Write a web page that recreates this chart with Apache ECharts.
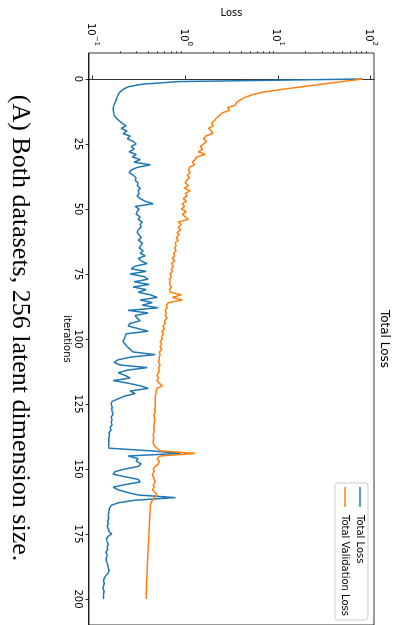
<!DOCTYPE html>
<html><head><meta charset="utf-8">
<script src="https://cdn.jsdelivr.net/npm/echarts@6/dist/echarts.min.js"></script>
<style>
html,body{margin:0;padding:0;width:406px;height:625px;overflow:hidden;background:#fff}
#wrap{position:absolute;left:0;top:0;width:625px;height:406px;transform-origin:0 0;transform:translate(406px,0) rotate(90deg);}
#chart{width:625px;height:406px}
</style></head><body><div id="wrap"><div id="chart"></div></div>
<script>
const titleText = 'Total Loss';
const captionText = '(A) Both datasets, 256 latent dimension size.';
const seriesNames = ['Total Loss', 'Total Validation Loss'];
const xTickValues = [0, 25, 50, 75, 100, 125, 150, 175, 200];
const yMajorTicks = [0.1, 1, 10, 100];
const yMinorTicks = [0.2,0.3,0.4,0.5,0.6,0.7,0.8,0.9,2,3,4,5,6,7,8,9,20,30,40,50,60,70,80,90];

const totalLoss = [
82, 0.834, 0.340, 0.239, 0.211, 0.196, 0.187, 0.182, 0.178, 0.173,
0.169, 0.165, 0.165, 0.167, 0.169, 0.178, 0.191, 0.206, 0.228, 0.201,
0.234, 0.211, 0.252, 0.234, 0.271, 0.292, 0.258, 0.278, 0.245, 0.292,
0.265, 0.323, 0.278, 0.415, 0.300, 0.258, 0.245, 0.271, 0.292, 0.285,
0.307, 0.300, 0.323, 0.307, 0.315, 0.300, 0.323, 0.366, 0.447, 0.285,
0.315, 0.300, 0.292, 0.323, 0.307, 0.340, 0.323, 0.331, 0.307, 0.300,
0.315, 0.331, 0.307, 0.340, 0.331, 0.315, 0.348, 0.323, 0.366, 0.307,
0.331, 0.384, 0.285, 0.258, 0.375, 0.252, 0.357, 0.394, 0.278, 0.404,
0.271, 0.375, 0.307, 0.415, 0.494, 0.323, 0.436, 0.340, 0.506, 0.239,
0.394, 0.285, 0.300, 0.323, 0.252, 0.239, 0.307, 0.394, 0.228, 0.222,
0.217, 0.211, 0.222, 0.234, 0.252, 0.271, 0.470, 0.252, 0.187, 0.169,
0.196, 0.384, 0.234, 0.187, 0.222, 0.252, 0.165, 0.239, 0.323, 0.394,
0.252, 0.285, 0.217, 0.187, 0.161, 0.157, 0.161, 0.159, 0.161, 0.165,
0.157, 0.161, 0.157, 0.161, 0.153, 0.157, 0.149, 0.151, 0.148, 0.149,
0.148, 0.148, 0.149, 0.415, 0.876, 0.239, 0.307, 0.292, 0.331, 0.307,
0.222, 0.173, 0.165, 0.222, 0.307, 0.323, 0.222, 0.165, 0.187, 0.234,
0.307, 0.774, 0.285, 0.187, 0.157, 0.151, 0.149, 0.148, 0.146, 0.148,
0.144, 0.146, 0.142, 0.146, 0.149, 0.159, 0.144, 0.140, 0.142, 0.146,
0.142, 0.144, 0.138, 0.142, 0.140, 0.138, 0.142, 0.144, 0.146, 0.149,
0.146, 0.138, 0.132, 0.130, 0.132, 0.130, 0.128, 0.132, 0.130, 0.130, 0.130
];

const validationLoss = [
82, 48.6, 29.5, 17.9, 10.9, 6.95, 5.28, 4.43, 3.91, 3.54,
3.45, 2.83, 2.97, 2.50, 2.32, 2.15, 2.05, 1.90, 2.00, 1.76,
1.90, 1.95, 1.63, 1.56, 1.68, 1.56, 1.44, 1.52, 1.37, 1.63,
1.31, 1.27, 1.18, 1.24, 1.10, 1.07, 1.12, 1.04, 1.10, 1.02,
0.99, 1.07, 0.97, 1.12, 0.99, 1.04, 0.94, 1.02, 0.92, 0.97,
0.90, 1.02, 0.92, 0.99, 1.07, 0.83, 0.90, 0.83, 0.88, 0.81,
0.85, 0.79, 0.83, 0.77, 0.79, 0.76, 0.79, 0.74, 0.76, 0.72,
0.76, 0.70, 0.74, 0.70, 0.72, 0.68, 0.70, 0.67, 0.68, 0.67,
0.70, 0.67, 0.68, 0.90, 0.72, 0.92, 0.65, 0.62, 0.63, 0.60,
0.62, 0.60, 0.63, 0.59, 0.60, 0.57, 0.59, 0.56, 0.57, 0.55,
0.56, 0.53, 0.55, 0.53, 0.55, 0.52, 0.53, 0.52, 0.52, 0.51,
0.53, 0.51, 0.52, 0.51, 0.49, 0.51, 0.49, 0.52, 0.56, 0.49,
0.48, 0.48, 0.47, 0.47, 0.47, 0.47, 0.47, 0.464, 0.47, 0.458,
0.458, 0.464, 0.458, 0.458, 0.453, 0.458, 0.453, 0.447, 0.453, 0.447,
0.447, 0.458, 0.49, 0.53, 1.27, 0.53, 0.49, 0.52, 0.51, 0.47,
0.447, 0.458, 0.436, 0.447, 0.458, 0.47, 0.447, 0.458, 0.436, 0.47,
0.49, 0.458, 0.436, 0.425, 0.415, 0.414, 0.413, 0.412, 0.410, 0.409,
0.408, 0.407, 0.405, 0.404, 0.403, 0.401, 0.400, 0.399, 0.397, 0.396,
0.395, 0.393, 0.392, 0.391, 0.390, 0.388, 0.387, 0.386, 0.385, 0.384,
0.383, 0.382, 0.381, 0.380, 0.379, 0.378, 0.377, 0.376, 0.376, 0.375, 0.374
];

const iterations = totalLoss.map((_, i) => i);

const FONT = 'DejaVu Sans';
const chart = echarts.init(document.getElementById('chart'), null, {renderer: 'canvas'});
const yMin = 0.0905, yMax = 108;

function supLabel(v) {
  const e = Math.round(Math.log10(v));
  const s = e < 0 ? '\u2212' + (-e) : String(e);
  return '{b|10}{s|' + s + '}';
}

chart.setOption({
  animation: false,
  backgroundColor: '#fff',
  title: {
    text: titleText, left: 339, top: 16, textAlign: 'center', padding: 0,
    textStyle: {fontFamily: FONT, fontSize: 12, fontWeight: 'normal', color: '#000'}
  },
  legend: {
    orient: 'vertical', right: 5, top: 38,
    padding: [3, 4, 5, 4], itemGap: 5, itemWidth: 20, itemHeight: 1.5,
    icon: 'rect',
    backgroundColor: 'rgba(255,255,255,0.8)', borderColor: '#cccccc', borderWidth: 1, borderRadius: 3,
    textStyle: {fontFamily: FONT, fontSize: 10, color: '#000', padding: [0, 0, 0, 3]},
    data: seriesNames
  },
  grid: {left: 53, top: 32, width: 572, height: 285, show: true, borderColor: '#000', borderWidth: 0.8, containLabel: false, outerBoundsMode: 'none'},
  xAxis: {
    type: 'value', min: -10, max: 210,
    name: 'iterations', nameLocation: 'middle', nameGap: 17, nameMoveOverlap: false,
    nameTextStyle: {fontFamily: FONT, fontSize: 10, color: '#000'},
    axisLine: {show: true, lineStyle: {color: '#000', width: 0.8}},
    axisTick: {show: true, length: 3.5, lineStyle: {color: '#000', width: 0.8}, customValues: xTickValues},
    axisLabel: {fontFamily: FONT, fontSize: 10, color: '#000', margin: 6, customValues: xTickValues},
    splitLine: {show: false}
  },
  yAxis: [{
    type: 'log', logBase: 10, min: yMin, max: yMax,
    name: 'Loss', nameLocation: 'middle', nameGap: 35, nameMoveOverlap: false,
    nameTextStyle: {fontFamily: FONT, fontSize: 10, color: '#000'},
    axisLine: {show: true, lineStyle: {color: '#000', width: 0.8}},
    axisTick: {show: true, length: 3.5, lineStyle: {color: '#000', width: 0.8}, customValues: yMajorTicks},
    axisLabel: {
      margin: 7, customValues: yMajorTicks, formatter: supLabel,
      rich: {
        b: {fontFamily: FONT, fontSize: 10, color: '#000', verticalAlign: 'bottom', lineHeight: 15},
        s: {fontFamily: FONT, fontSize: 7, color: '#000', verticalAlign: 'top', lineHeight: 15}
      }
    },
    splitLine: {show: false}
  }, {
    type: 'log', logBase: 10, min: yMin, max: yMax, position: 'left',
    axisLine: {show: false},
    axisTick: {show: true, length: 2, lineStyle: {color: '#000', width: 0.6}, customValues: yMinorTicks},
    axisLabel: {show: false},
    splitLine: {show: false}
  }],
  graphic: [{
    type: 'text', x: 328, y: 386,
    style: {text: captionText, fontFamily: 'Liberation Serif', fontSize: 26, fill: '#000', align: 'center', verticalAlign: 'middle'}
  }],
  series: [{
    name: seriesNames[0], type: 'line', symbol: 'none', showSymbol: false,
    lineStyle: {color: '#1f77b4', width: 1.5}, itemStyle: {color: '#1f77b4'},
    data: iterations.map(i => [i, totalLoss[i]])
  }, {
    name: seriesNames[1], type: 'line', symbol: 'none', showSymbol: false,
    lineStyle: {color: '#ff7f0e', width: 1.5}, itemStyle: {color: '#ff7f0e'},
    data: iterations.map(i => [i, validationLoss[i]])
  }]
});
</script></body></html>
